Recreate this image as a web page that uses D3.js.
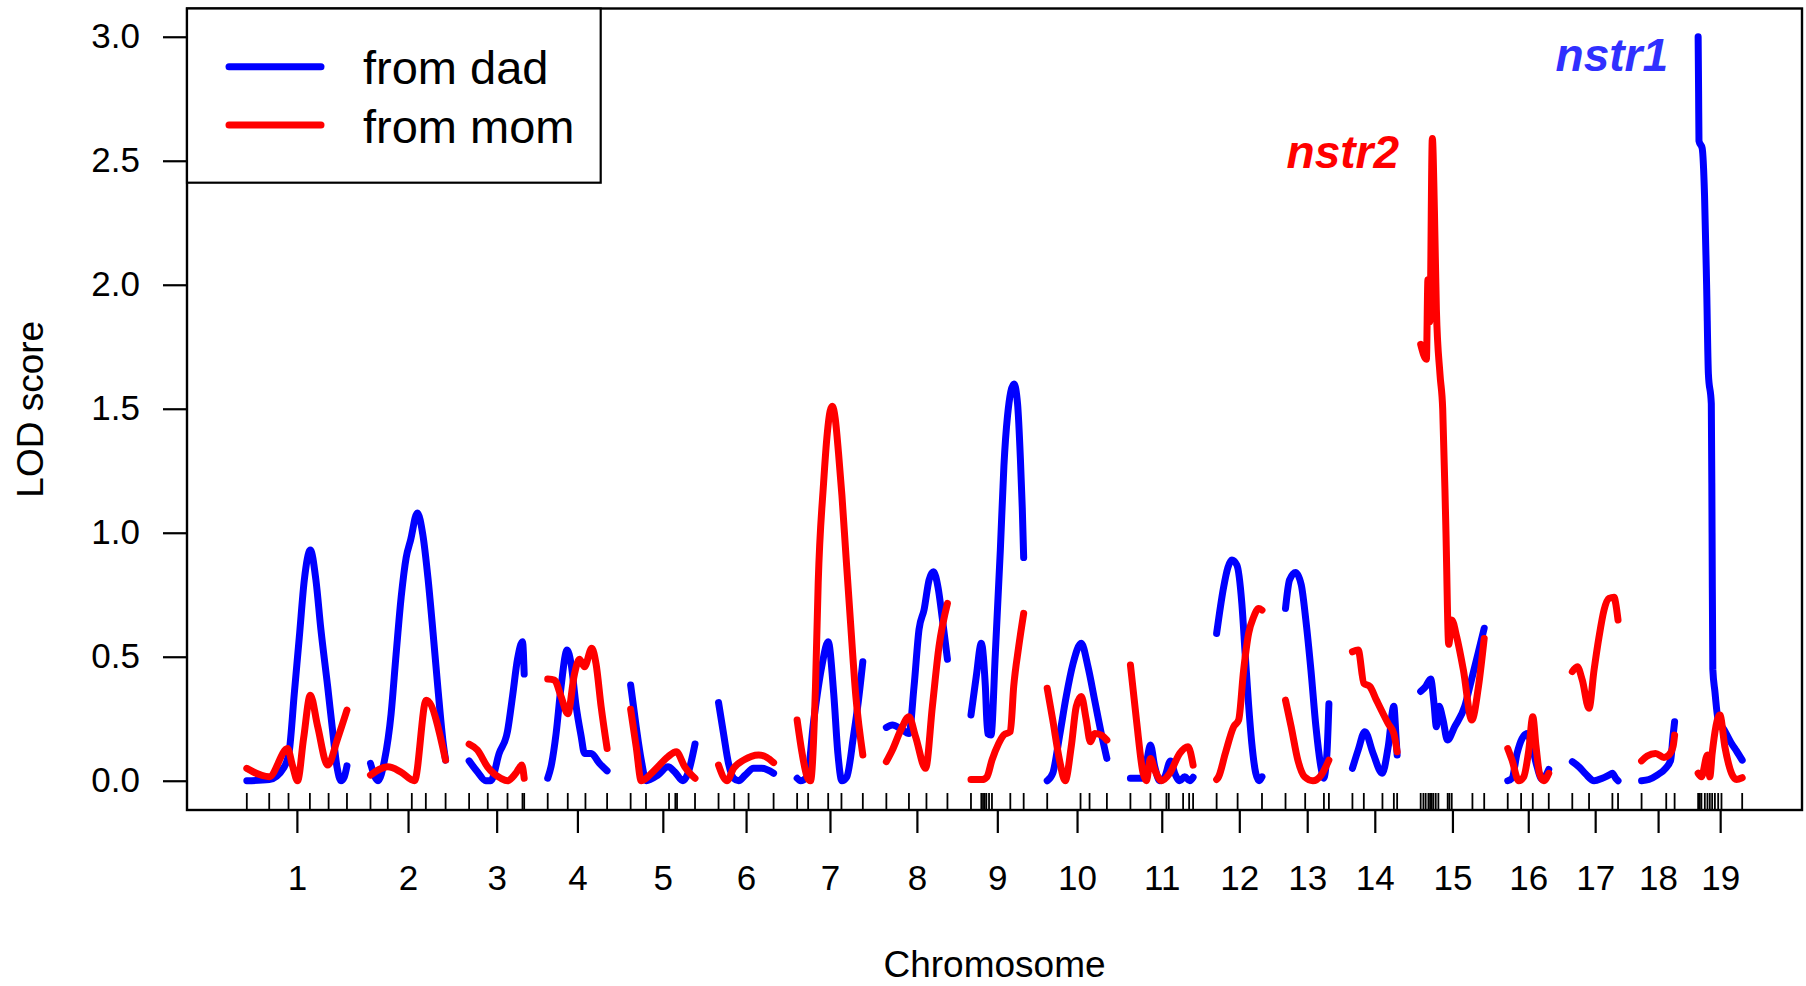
<!DOCTYPE html>
<html>
<head>
<meta charset="utf-8">
<title>LOD score by chromosome</title>
<script src="https://cdn.jsdelivr.net/npm/d3@7"></script>
<style>
  html, body { margin: 0; padding: 0; background: #ffffff; }
  svg { display: block; font-family: "Liberation Sans", Arial, Helvetica, sans-serif; }
</style>
</head>
<body>
<svg id="chart" width="1806" height="986"></svg>
<script>
// ---- data -------------------------------------------------------------
const chromosomes = ["1","2","3","4","5","6","7","8","9","10","11","12","13","14","15","16","17","18","19"];

// marker positions (cM from the first marker of each chromosome)
const markerPos = [
  [0, 23.8, 44.3, 67.0, 86.9, 106.4],
  [0, 18.4, 43.9, 58.8, 79.8],
  [0, 19.8, 40.8, 56.7, 58.5],
  [0, 21.3, 40.1, 63.1],
  [0, 16.3, 40.8, 47.5, 49.3, 68.4],
  [0, 16.7, 31.9, 58.5],
  [0, 11.7, 33.0, 47.1, 69.8],
  [0, 24.0, 42.6, 64.9],
  [0, 11.0, 12.8, 14.5, 16.3, 19.2, 22.3, 41.8, 56.0],
  [0, 35.4, 45.0, 63.4],
  [0, 21.3, 38.3, 40.8, 56.0, 62.4, 66.6],
  [0, 22.3, 48.2],
  [0, 20.9, 40.8, 46.1],
  [0, 12.1, 31.9, 44.0, 47.5],
  [0, 2.9, 5.3, 8.2, 10.0, 11.7, 13.5, 16.0, 18.8, 28.7, 30.5, 33.0, 55.0, 67.5],
  [0, 14.2, 26.6, 43.6],
  [0, 17.8, 42.6, 48.6],
  [0, 26.2, 35.1],
  [0, 1.8, 3.5, 7.1, 9.9, 12.4, 14.9, 17.8, 21.3, 24.8, 46.8]
];

// LOD profile, paternal allele: [cM, LOD] per chromosome
const lodDad = [
  [[0,0],[23.8,0.005],[39.8,0.056],[45.1,0.12],[50.4,0.35],[55.8,0.58],[61.1,0.81],[67.5,0.93],[73.4,0.81],[78.7,0.61],[85.9,0.38],[91.2,0.2],[95.8,0.056],[100,0],[103.6,0.016],[106.4,0.06]],
  [[0,0.07],[8.0,0],[14.9,0.083],[21.9,0.27],[27.2,0.51],[32.6,0.74],[37.9,0.9],[42.6,0.97],[49.8,1.08],[55.7,0.99],[61.0,0.82],[66.4,0.6],[71.7,0.37],[77.0,0.16],[79.8,0.083]],
  [[0,0.08],[8.8,0.036],[17.7,0],[23.0,0],[31.9,0.11],[40.8,0.2],[46.1,0.34],[51.4,0.49],[56.7,0.56],[58.5,0.43]],
  [[0,0.01],[3.5,0.056],[8.9,0.19],[14.2,0.38],[20.6,0.527],[24.9,0.47],[30.2,0.3],[35.5,0.18],[39.1,0.11],[46.1,0.11],[55.0,0.07],[63.1,0.04]],
  [[0,0.386],[5.9,0.218],[11.3,0.083],[16.6,0],[29.0,0.023],[39.7,0.056],[46.8,0.036],[55.6,0],[60.9,0.03],[68.4,0.148]],
  [[0,0.315],[5.3,0.19],[10.6,0.07],[16.0,0.01],[21.3,0],[28.4,0.023],[37.2,0.05],[46.1,0.05],[58.5,0.03]],
  [[0,0.01],[3.5,0],[10.6,0.016],[17.7,0.245],[26.6,0.47],[33.0,0.56],[38.9,0.35],[43.3,0.11],[47.5,0],[52.8,0.016],[59.9,0.18],[65.2,0.325],[69.8,0.48]],
  [[0,0.215],[6.4,0.225],[15.3,0.21],[24.0,0.19],[29.4,0.38],[34.7,0.61],[40.1,0.69],[45.4,0.81],[50.0,0.843],[54.9,0.78],[59.6,0.65],[64.9,0.49]],
  [[0,0.265],[5.6,0.42],[11.0,0.554],[15.3,0.38],[17.7,0.19],[21.3,0.184],[25.9,0.514],[31.2,0.93],[35.0,1.27],[38.8,1.47],[45.7,1.6],[49.5,1.52],[52.5,1.3],[54.5,1.1],[56.0,0.9]],
  [[0,0],[5.9,0.03],[13.1,0.18],[20.2,0.34],[27.3,0.47],[36.2,0.554],[43.3,0.46],[50.4,0.325],[57.5,0.19],[63.4,0.09]],
  [[0,0.01],[13.5,0.01],[17.0,0.07],[21.3,0.144],[25.9,0.056],[31.2,0],[36.5,0.016],[42.6,0.08],[47.1,0.03],[52.4,0],[57.7,0.016],[63.1,0],[66.6,0.014]],
  [[0,0.594],[7.4,0.78],[12.0,0.86],[16.2,0.89],[21.5,0.87],[26.8,0.715],[30.3,0.514],[33.9,0.31],[37.4,0.15],[41.6,0.03],[45.2,0],[48.2,0.016]],
  [[0,0.695],[4.3,0.81],[10.7,0.84],[16.7,0.79],[21.6,0.648],[27.0,0.446],[32.3,0.218],[37.6,0.056],[40.5,0.01],[44.0,0.11],[46.1,0.31]],
  [[0,0.05],[6.1,0.124],[13.2,0.198],[22.0,0.11],[31.6,0.03],[38.0,0.137],[44.0,0.3],[46.1,0.19],[47.5,0.104]],
  [[0,0.36],[5.3,0.38],[10.6,0.41],[14.2,0.31],[16.7,0.218],[19.5,0.3],[23.8,0.245],[28.4,0.164],[36.2,0.218],[46.8,0.3],[53.9,0.406],[61.0,0.514],[67.5,0.615]],
  [[0,0],[4.6,0.01],[9.9,0.11],[15.2,0.17],[20.6,0.19],[25.9,0.137],[31.2,0.056],[36.5,0.005],[43.6,0.046]],
  [[0,0.077],[7.1,0.056],[14.2,0.027],[23.1,0],[31.9,0.01],[39.0,0.023],[42.6,0.03],[46.1,0.01],[48.6,0]],
  [[0,0],[7.8,0.005],[16.6,0.023],[25.5,0.05],[30.9,0.083],[33.4,0.18],[35.1,0.238]],
  [[0,3.0],[0.5,2.77],[0.9,2.58],[4.3,2.55],[6.8,2.36],[9.0,2.0],[10.9,1.64],[14.0,1.52],[14.8,1.0],[15.6,0.45],[17.8,0.36],[21.3,0.245],[27.4,0.207],[35.5,0.15],[40.8,0.12],[46.8,0.083]]
];

// LOD profile, maternal allele: [cM, LOD] per chromosome
const lodMom = [
  [[0,0.05],[23.8,0.016],[43.3,0.13],[48.6,0.06],[53.9,0],[60.3,0.17],[67.5,0.345],[75.2,0.22],[85.9,0.063],[96.5,0.17],[106.4,0.285]],
  [[0,0.023],[18.4,0.056],[32.0,0.036],[46.8,0],[59.2,0.325],[79.8,0.083]],
  [[0,0.148],[8.8,0.124],[19.5,0.056],[33.7,0.01],[40.8,0],[49.6,0.03],[56.0,0.063],[58.5,0.01]],
  [[0,0.41],[7.1,0.406],[14.2,0.34],[21.3,0.27],[28.4,0.43],[33.7,0.49],[39.1,0.46],[46.8,0.534],[51.4,0.47],[56.7,0.3],[63.1,0.13]],
  [[0,0.288],[5.9,0.137],[11.3,0],[25.5,0.043],[39.7,0.097],[48.5,0.117],[57.5,0.056],[68.4,0.01]],
  [[0,0.063],[8.9,0],[16.0,0.05],[26.6,0.083],[42.6,0.104],[51.4,0.094],[58.5,0.073]],
  [[0,0.245],[5.3,0.11],[10.6,0.016],[14.2,0],[19.5,0.38],[22.4,0.8],[28.1,1.2],[32.0,1.4],[35.0,1.49],[37.4,1.51],[40.5,1.46],[44.0,1.32],[47.6,1.15],[52.0,0.9],[56.7,0.64],[62.4,0.34],[69.8,0.104]],
  [[0,0.077],[6.4,0.124],[15.3,0.204],[24.0,0.258],[31.1,0.177],[41.7,0.05],[48.9,0.3],[55.9,0.54],[64.9,0.715]],
  [[0,0.005],[11.7,0.005],[17.0,0.016],[22.3,0.083],[29.4,0.15],[34.7,0.184],[41.8,0.198],[45.4,0.38],[50.7,0.54],[56.0,0.675]],
  [[0,0.373],[5.9,0.245],[13.1,0.083],[19.1,0],[25.5,0.137],[30.9,0.3],[36.2,0.34],[41.5,0.245],[45.8,0.157],[50.4,0.19],[57.5,0.184],[63.4,0.164]],
  [[0,0.467],[6.4,0.245],[13.5,0.03],[17.0,0],[21.3,0.09],[25.9,0.043],[33.0,0],[41.8,0.03],[52.4,0.11],[61.2,0.137],[66.6,0.063]],
  [[0,0.005],[2.1,0.016],[9.2,0.11],[18.1,0.218],[23.4,0.245],[28.7,0.446],[34.0,0.594],[39.3,0.66],[44.7,0.695],[48.2,0.688]],
  [[0,0.325],[6.0,0.218],[13.1,0.083],[20.2,0.016],[29.1,0],[37.9,0.023],[46.1,0.083]],
  [[0,0.52],[6.1,0.527],[12.1,0.393],[18.5,0.38],[25.5,0.325],[32.6,0.27],[38.0,0.23],[44.0,0.19],[47.5,0.117]],
  [[0,1.76],[6.1,1.7],[7.7,2.02],[9.8,1.85],[12.4,2.59],[14.6,2.3],[16.7,1.9],[20.5,1.64],[23.4,1.5],[26.7,1.03],[29.8,0.55],[33.0,0.648],[38.3,0.58],[45.4,0.446],[54.3,0.245],[61.4,0.38],[67.5,0.574]],
  [[0,0.13],[4.6,0.083],[11.7,0],[17.0,0.016],[22.4,0.124],[26.6,0.258],[30.1,0.137],[33.7,0.03],[38.3,0],[43.6,0.03]],
  [[0,0.44],[5.3,0.46],[10.6,0.406],[17.7,0.292],[23.1,0.446],[28.4,0.58],[33.7,0.688],[39.0,0.735],[44.4,0.74],[46.1,0.715],[48.6,0.648]],
  [[0,0.08],[6.0,0.1],[14.9,0.11],[23.8,0.094],[29.1,0.104],[33.4,0.137],[35.1,0.184]],
  [[0,0.03],[3.5,0.016],[9.9,0.104],[12.4,0.016],[14.9,0.11],[23.1,0.265],[28.4,0.137],[35.5,0.03],[40.8,0.005],[46.8,0.012]]
];

const yTickValues = [0, 0.5, 1.0, 1.5, 2.0, 2.5, 3.0];
const seriesNames = ["from dad", "from mom"];
const seriesColors = ["#0000ff", "#ff0000"];

// named QTL peaks: label, chromosome, position (cM, relative to chromosome start), LOD height of label
const peakNames = ["nstr1", "nstr2"];
const peakChr = ["19", "15"];
const peakPos = [-32, -23];
const peakLod = [2.86, 2.47];
const peakColors = ["#3030ff", "#ff0000"];

const gapCM = 25;

// ---- layout -----------------------------------------------------------
const plot = { left: 187, right: 1802, top: 8.5, bottom: 810 };

const chrLen = markerPos.map(m => m[m.length - 1]);
const chrStart = [];
let acc = 0;
chrLen.forEach(len => { chrStart.push(acc); acc += len + gapCM; });
const totalLen = acc - gapCM;

const x = d3.scaleLinear()
  .domain([-0.04 * totalLen, 1.04 * totalLen])
  .range([plot.left, plot.right]);
const y = d3.scaleLinear()
  .domain([-0.12, 3.12])
  .range([810.5, 7]);

const svg = d3.select("#chart");
svg.append("rect").attr("width", 1806).attr("height", 986).attr("fill", "#ffffff");

// ---- LOD curves (paternal first, maternal on top) ---------------------
const profiles = [lodDad, lodMom];
profiles.forEach((profile, s) => {
  const g = svg.append("g").attr("class", "series-" + s);
  profile.forEach((pts, i) => {
    const line = d3.line()
      .x(d => x(chrStart[i] + d[0]))
      .y(d => y(d[1]))
      .curve(d3.curveMonotoneX);
    g.append("path")
      .attr("d", line(pts))
      .attr("fill", "none")
      .attr("stroke", seriesColors[s])
      .attr("stroke-width", 7)
      .attr("stroke-linecap", "round")
      .attr("stroke-linejoin", "round");
  });
});

// ---- marker rug ---------------------------------------------------------
const rugData = [];
markerPos.forEach((ms, i) => ms.forEach(m => rugData.push(chrStart[i] + m)));
svg.append("g").selectAll("line").data(rugData).join("line")
  .attr("x1", d => x(d)).attr("x2", d => x(d))
  .attr("y1", plot.bottom - 17).attr("y2", plot.bottom)
  .attr("stroke", "#000").attr("stroke-width", 1.8);

// ---- axes -------------------------------------------------------------
const chrMid = chrLen.map((len, i) => chrStart[i] + len / 2);
const xAxis = d3.axisBottom(x)
  .tickValues(chrMid)
  .tickFormat((d, i) => chromosomes[i])
  .tickSize(23)
  .tickPadding(32);
const gx = svg.append("g")
  .attr("transform", `translate(0,${plot.bottom})`)
  .call(xAxis);
gx.select(".domain").remove();
gx.selectAll(".tick line").attr("stroke", "#000").attr("stroke-width", 2.2);
gx.selectAll(".tick text")
  .attr("fill", "#000")
  .style("font-size", "35px")
  .style("font-family", "'Liberation Sans', Arial, Helvetica, sans-serif");

const yAxis = d3.axisLeft(y)
  .tickValues(yTickValues)
  .tickFormat(d3.format(".1f"))
  .tickSize(24)
  .tickPadding(23);
const gy = svg.append("g")
  .attr("transform", `translate(${plot.left},0)`)
  .call(yAxis);
gy.select(".domain").remove();
gy.selectAll(".tick line").attr("stroke", "#000").attr("stroke-width", 2.2);
gy.selectAll(".tick text")
  .attr("fill", "#000")
  .style("font-size", "35px")
  .style("font-family", "'Liberation Sans', Arial, Helvetica, sans-serif");

// plot frame
svg.append("rect")
  .attr("x", plot.left).attr("y", plot.top)
  .attr("width", plot.right - plot.left).attr("height", plot.bottom - plot.top)
  .attr("fill", "none").attr("stroke", "#000").attr("stroke-width", 2.4);

// axis titles
svg.append("text")
  .attr("x", (plot.left + plot.right) / 2).attr("y", 977)
  .attr("text-anchor", "middle")
  .style("font-size", "37px")
  .text("Chromosome");
svg.append("text")
  .attr("transform", `translate(43,${(plot.top + plot.bottom) / 2}) rotate(-90)`)
  .attr("text-anchor", "middle")
  .style("font-size", "37px")
  .text("LOD score");

// ---- peak labels ------------------------------------------------------
peakNames.forEach((name, k) => {
  const ci = chromosomes.indexOf(peakChr[k]);
  svg.append("text")
    .attr("x", x(chrStart[ci] + peakPos[k]))
    .attr("y", y(peakLod[k]))
    .attr("text-anchor", "end")
    .attr("fill", peakColors[k])
    .style("font-size", "46px")
    .style("font-weight", "bold")
    .style("font-style", "italic")
    .text(name);
});

// ---- legend -------------------------------------------------------------
const legend = svg.append("g");
legend.append("rect")
  .attr("x", plot.left).attr("y", plot.top)
  .attr("width", 413.7).attr("height", 174.2)
  .attr("fill", "#ffffff").attr("stroke", "#000").attr("stroke-width", 2.2);
seriesNames.forEach((name, s) => {
  const ly = 66.7 + s * 58.3;
  legend.append("line")
    .attr("x1", 229).attr("x2", 321)
    .attr("y1", ly).attr("y2", ly)
    .attr("stroke", seriesColors[s])
    .attr("stroke-width", 7)
    .attr("stroke-linecap", "round");
  legend.append("text")
    .attr("x", 363).attr("y", ly + 17.5)
    .style("font-size", "47px")
    .text(name);
});
</script>
</body>
</html>
